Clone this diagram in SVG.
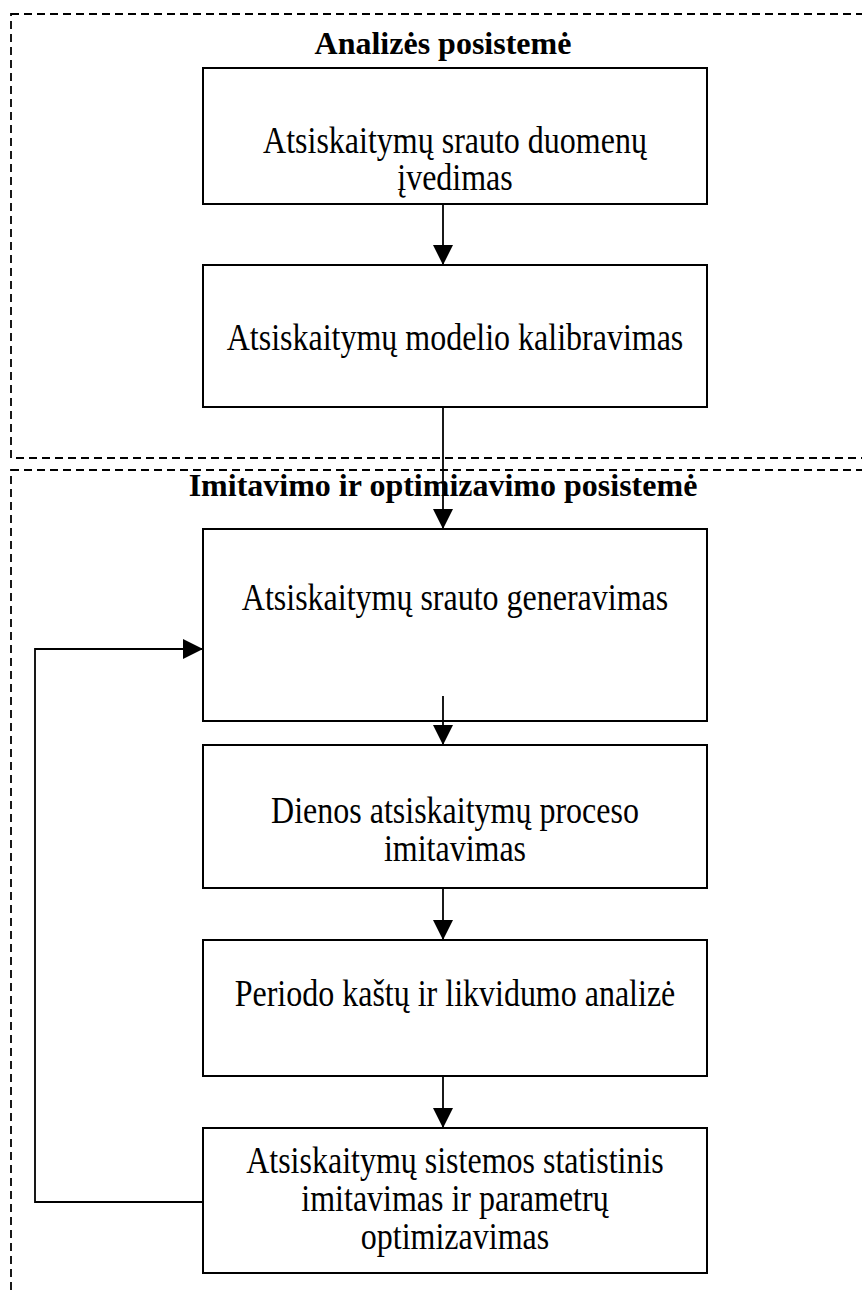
<svg xmlns="http://www.w3.org/2000/svg" width="862" height="1292" viewBox="0 0 862 1292">
  <defs>
    <style>
      .frame { fill: none; stroke: #000; stroke-width: 1.8; stroke-dasharray: 8 5; }
      .box { fill: #fff; stroke: #000; stroke-width: 2; }
      .link { fill: none; stroke: #000; stroke-width: 1.8; }
      .title { font-family: "Liberation Serif", "Times New Roman", serif; font-size: 32px; font-weight: bold; text-anchor: middle; fill: #000; }
      .label { font-family: "Liberation Serif", "Times New Roman", serif; font-size: 32px; text-anchor: middle; fill: #000; }
    </style>
    <marker id="arrow" viewBox="0 0 20 20" refX="20" refY="10" markerWidth="20" markerHeight="20" markerUnits="userSpaceOnUse" orient="auto">
      <path d="M0,0 L20,10 L0,20 z" fill="#000"/>
    </marker>
  </defs>

  <rect width="862" height="1292" fill="#fff"/>

  <!-- subsystem frames -->
  <g id="analysis-subsystem">
    <rect class="frame" x="11" y="14" width="870" height="444"/>
    <text class="title" x="443" y="54">Analizės posistemė</text>
  </g>
  <g id="simulation-subsystem">
    <rect class="frame" x="11" y="470" width="870" height="840"/>
    <text class="title" x="443" y="496">Imitavimo ir optimizavimo posistemė</text>
  </g>

  <!-- process steps; labels are set slightly tall (scaled 1.2 vertically) -->
  <g id="node-input">
    <rect class="box" x="203" y="68" width="504" height="136"/>
    <text class="label" transform="translate(455 153) scale(1 1.2)">Atsiskaitymų srauto duomenų</text>
    <text class="label" transform="translate(455 190) scale(1 1.2)">įvedimas</text>
  </g>
  <g id="node-calibration">
    <rect class="box" x="203" y="265" width="504" height="142"/>
    <text class="label" transform="translate(455 350) scale(1 1.2)">Atsiskaitymų modelio kalibravimas</text>
  </g>
  <g id="node-generation">
    <rect class="box" x="203" y="529" width="504" height="192"/>
    <text class="label" transform="translate(455 610) scale(1 1.2)">Atsiskaitymų srauto generavimas</text>
  </g>
  <g id="node-day-simulation">
    <rect class="box" x="203" y="745" width="504" height="143"/>
    <text class="label" transform="translate(455 823) scale(1 1.2)">Dienos atsiskaitymų proceso</text>
    <text class="label" transform="translate(455 861) scale(1 1.2)">imitavimas</text>
  </g>
  <g id="node-period-analysis">
    <rect class="box" x="203" y="940" width="504" height="136"/>
    <text class="label" transform="translate(455 1006) scale(1 1.2)">Periodo kaštų ir likvidumo analizė</text>
  </g>
  <g id="node-optimization">
    <rect class="box" x="203" y="1128" width="504" height="145"/>
    <text class="label" transform="translate(455 1173) scale(1 1.2)">Atsiskaitymų sistemos statistinis</text>
    <text class="label" transform="translate(455 1211) scale(1 1.2)">imitavimas ir parametrų</text>
    <text class="label" transform="translate(455 1249) scale(1 1.2)">optimizavimas</text>
  </g>

  <!-- connectors, drawn over the boxes -->
  <g id="connectors">
    <line class="link" x1="443" y1="204" x2="443" y2="265" marker-end="url(#arrow)"/>
    <line class="link" x1="443" y1="407" x2="443" y2="529" marker-end="url(#arrow)"/>
    <line class="link" x1="443" y1="696" x2="443" y2="745" marker-end="url(#arrow)"/>
    <line class="link" x1="443" y1="888" x2="443" y2="940" marker-end="url(#arrow)"/>
    <line class="link" x1="443" y1="1076" x2="443" y2="1128" marker-end="url(#arrow)"/>
    <polyline class="link" points="203,1202 35,1202 35,649 203,649" marker-end="url(#arrow)"/>
  </g>
</svg>
